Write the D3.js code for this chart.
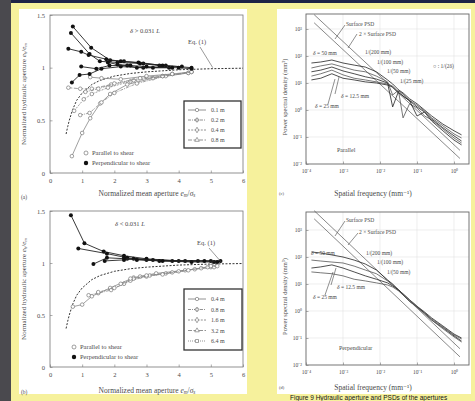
<!DOCTYPE html>
<html>
<head>
<meta charset="utf-8">
<script src="https://cdn.jsdelivr.net/npm/d3@7"></script>
<style>
body { margin: 0; background: #f6f19c; }
svg { display: block; font-family: "Liberation Serif", "DejaVu Serif", serif; }
</style>
</head>
<body>
<svg id="fig" width="475" height="401"></svg>
<script>
// ---- (a), (b): normalized hydraulic aperture vs normalized mean aperture ----
var apertureTicks = [0, 1, 2, 3, 4, 5, 6];
var ratioTicks = [0, 0.5, 1, 1.5];

// Eq. (1) curve
var eqAperture = [0.5, 0.55, 0.6, 0.7, 0.83, 1.0, 1.15, 1.3, 1.56, 2.0, 2.5, 3.0, 3.5, 4.0, 5.0, 6.0];
var eqRatio = [0.37, 0.44, 0.5, 0.6, 0.69, 0.76, 0.8, 0.84, 0.88, 0.92, 0.945, 0.96, 0.97, 0.98, 0.99, 0.995];

// (a) delta > 0.031 L
var aSizes = ["0.1 m", "0.2 m", "0.4 m", "0.8 m"];
var aPerp = [
    [[0.71, 1.39], [1.28, 1.19], [1.87, 1.07], [2.3, 1.06], [2.9, 1.04], [3.6, 1.02], [4.4, 1.0]],
    [[0.65, 1.33], [1.23, 1.13], [1.55, 1.06], [2.1, 1.05], [2.8, 1.04], [3.4, 1.02], [4.1, 1.01]],
    [[0.57, 1.18], [0.97, 1.15], [1.2, 1.12], [1.75, 1.08], [2.2, 1.06], [2.75, 1.05], [3.5, 1.02]],
    [[0.68, 0.86], [0.92, 0.93], [1.23, 0.94], [1.6, 0.99], [2.2, 1.01], [2.9, 1.0], [3.7, 1.0]],
    [[0.97, 1.01], [1.44, 0.99], [1.85, 1.02], [2.4, 1.02], [2.7, 1.0], [3.2, 1.0], [4.0, 1.0], [4.4, 0.99]],
    [[1.8, 1.05], [2.1, 1.03], [2.5, 1.02], [3.0, 1.01], [3.8, 1.0]]
];
var aPar = [
    [[0.68, 0.16], [1.0, 0.38], [1.25, 0.52], [1.56, 0.66], [1.87, 0.75], [2.4, 0.84], [3.2, 0.9], [4.3, 0.95]],
    [[0.94, 0.55], [1.23, 0.57], [1.6, 0.67], [2.0, 0.76], [2.7, 0.85], [3.6, 0.92], [4.4, 0.96]],
    [[0.75, 0.59], [1.05, 0.7], [1.3, 0.75], [1.8, 0.81], [2.5, 0.87], [3.5, 0.92], [4.3, 0.95]],
    [[0.57, 0.81], [0.94, 0.8], [1.3, 0.8], [1.9, 0.84], [2.6, 0.88], [3.5, 0.92], [4.4, 0.96]],
    [[1.25, 0.91], [1.6, 0.9], [2.2, 0.89], [3.0, 0.92], [3.8, 0.94], [4.4, 0.96]],
    [[1.1, 0.77], [1.5, 0.8], [2.0, 0.85], [2.8, 0.9], [3.8, 0.94]]
];

// (b) delta < 0.031 L
var bSizes = ["0.4 m", "0.8 m", "1.6 m", "3.2 m", "6.4 m"];
var bPerp = [
    [[0.65, 1.46], [1.07, 1.19], [1.67, 1.11], [2.3, 1.07], [3.0, 1.04], [4.0, 1.02], [5.0, 1.02]],
    [[0.88, 1.14], [1.77, 1.09], [2.4, 1.05], [3.2, 1.03], [4.2, 1.02], [5.3, 1.02]],
    [[1.35, 0.99], [1.77, 1.05], [2.4, 1.04], [3.0, 1.03], [3.8, 1.02], [4.6, 1.02]],
    [[1.7, 1.02], [2.3, 1.03], [2.6, 1.04], [3.4, 1.02], [4.4, 1.01], [5.1, 1.01]],
    [[2.3, 1.05], [2.7, 1.03], [3.5, 1.02], [4.8, 1.02], [5.2, 1.01]]
];
var bPar = [
    [[0.71, 0.58], [1.0, 0.6], [1.3, 0.68], [1.87, 0.76], [2.6, 0.86], [3.3, 0.9], [4.2, 0.93], [5.0, 0.96]],
    [[1.2, 0.69], [1.5, 0.71], [1.9, 0.74], [2.3, 0.8], [2.8, 0.87], [3.6, 0.9], [4.5, 0.94], [5.1, 0.96]],
    [[1.5, 0.72], [2.0, 0.76], [2.5, 0.83], [3.0, 0.87], [3.8, 0.91], [4.7, 0.95], [5.2, 0.97]],
    [[2.2, 0.8], [2.6, 0.85], [3.1, 0.88], [4.0, 0.92], [4.9, 0.96]],
    [[2.5, 0.85], [3.0, 0.88], [3.5, 0.89], [4.3, 0.93], [5.0, 0.97]]
];

// ---- (c), (d): power spectral density ----
var freqTicks = [1e-4, 1e-3, 1e-2, 1e-1, 1];
var freqTickLabels = ["10⁻⁴", "10⁻³", "10⁻²", "10⁻¹", "10⁰"];
var psdTicks = [1e-2, 1e-1, 1, 10, 100, 1000];
var psdTickLabels = ["10⁻²", "10⁻¹", "10⁰", "10¹", "10²", "10³"];

var freq = [1.4e-4, 2.5e-4, 5e-4, 1e-3, 2e-3, 4e-3, 8e-3, 0.016, 0.022, 0.032, 0.042, 0.063, 0.1, 0.16, 0.25, 0.5, 1, 1.6];
var cPsd = [
    [55, 60, 71, 55, 46, 39, 26, 13, 9.2, 5.5, 4.3, 2.6, 1.7, 1.0, 0.6, 0.3, 0.17, 0.12],
    [36, 43, 51, 39, 30, 26, 18, 11, 3.6, 5.5, 3.9, 2.3, 1.5, 0.92, 0.51, 0.26, 0.13, 0.092],
    [26, 30, 39, 28, 22, 17, 14, 10, 1.3, 5.1, 3.3, 2.2, 1.3, 0.84, 0.46, 0.22, 0.11, 0.071],
    [18, 22, 30, 20, 15, 13, 11, 9.2, 7.7, 4.6, 0.51, 1.7, 1.2, 0.6, 0.43, 0.2, 0.092, 0.06],
    [13, 15, 22, 15, 13, 11, 10, 8.4, 7.1, 4.3, 3.3, 2.2, 0.6, 0.84, 0.39, 0.17, 0.077, 0.051]
];
var dPsd = [
    [153, 141, 119, 100, 77, 55, 33, 14, 10, 6.0, 4.3, 2.6, 1.5, 0.92, 0.55, 0.28, 0.14, 0.1],
    [77, 71, 65, 60, 46, 33, 24, 13, 9.2, 6.0, 4.3, 2.6, 1.5, 0.84, 0.51, 0.26, 0.13, 0.092],
    [39, 43, 51, 39, 28, 20, 15, 11, 8.4, 6.0, 3.9, 2.3, 1.4, 0.84, 0.46, 0.24, 0.12, 0.077],
    [28, 26, 24, 20, 15, 13, 11, 9.2, 7.7, 5.5, 3.9, 2.3, 1.4, 0.77, 0.46, 0.22, 0.11, 0.071]
];
// straight surface PSD lines (end points), and 2 x surface PSD
var surfFreq = [1.66e-4, 1.45];
var cSurfPsd = [1700, 0.016];
var cSurf2Psd = [3400, 0.032];
var dSurfPsd = [2600, 0.02];
var dSurf2Psd = [5200, 0.04];

var svg = d3.select("#fig");
var ink = "#4a4a4a";

// scanned page: dark strip, navy strip, yellow, two white sheets
svg.append("rect").attr("width", 475).attr("height", 401).attr("fill", "#f6f19c");
svg.append("rect").attr("x", 0).attr("y", 0).attr("width", 11).attr("height", 401).attr("fill", "#4a494e");
svg.append("rect").attr("x", 11).attr("y", 0).attr("width", 464).attr("height", 3).attr("fill", "#1e2346");
svg.append("rect").attr("x", 19).attr("y", 9).attr("width", 228).attr("height", 385).attr("fill", "#fff");
svg.append("rect").attr("x", 277).attr("y", 9).attr("width", 194).attr("height", 385).attr("fill", "#fff");

// text with italic letters and subscripts: parts = [[text, "i" | "sub" | ""], ...]
function richText(sel, parts, size) {
    parts.forEach(function(p) {
        var t = sel.append("tspan").text(p[0]);
        if (p[1] === "i") t.attr("font-style", "italic");
        if (p[1] === "sub") t.attr("font-style", "italic").attr("font-size", size * 0.7).attr("baseline-shift", "-25%");
    });
}

function styleAxis(g) {
    g.select(".domain").remove();
    g.selectAll("line").attr("stroke", "#777").attr("stroke-width", 0.6);
    g.selectAll("text").attr("fill", ink).attr("font-family", "Liberation Serif").attr("font-size", 6.5);
}

var sizeDash = ["", "3,1,1,1", "2,1.2", "4,1.5", "1,1"];
var sizeSymbol = [d3.symbolCircle, d3.symbolCross, d3.symbolDiamond, d3.symbolTriangle, d3.symbolSquare];

function drawAperture(p) {
    var x = d3.scaleLinear().domain([0, 6]).range([50, 243]);
    var y = d3.scaleLinear().domain([0, 1.5]).range([p.bottom, p.top]);
    var g = svg.append("g");
    var line = d3.line().x(d => x(d[0])).y(d => y(d[1]));

    g.append("rect")
        .attr("x", x(0)).attr("y", y(1.5))
        .attr("width", x(6) - x(0)).attr("height", y(0) - y(1.5))
        .attr("fill", "none").attr("stroke", "#777").attr("stroke-width", 0.8);

    var xAxis = g.append("g").attr("transform", `translate(0, ${y(0)})`)
        .call(d3.axisBottom(x).tickValues(apertureTicks).tickSize(-2.5).tickPadding(5).tickFormat(d3.format("d")));
    styleAxis(xAxis);
    var yAxis = g.append("g").attr("transform", `translate(${x(0)}, 0)`)
        .call(d3.axisLeft(y).tickValues(ratioTicks).tickSize(-2.5).tickPadding(5).tickFormat(d => String(d)));
    styleAxis(yAxis);

    // Eq. (1)
    g.append("path")
        .attr("d", line(eqAperture.map((v, i) => [v, eqRatio[i]])))
        .attr("fill", "none").attr("stroke", "#333").attr("stroke-width", 1).attr("stroke-dasharray", "2,1.5");

    // parallel to shear (open)
    p.par.forEach(function(s, i) {
        g.append("path").attr("d", line(s)).attr("fill", "none")
            .attr("stroke", "#888").attr("stroke-width", 0.8).attr("stroke-dasharray", sizeDash[i % p.sizes.length]);
        g.selectAll(null).data(s).enter().append("circle")
            .attr("cx", d => x(d[0])).attr("cy", d => y(d[1])).attr("r", 1.8)
            .attr("fill", "#fff").attr("stroke", "#777").attr("stroke-width", 0.7);
    });
    // perpendicular to shear (filled)
    p.perp.forEach(function(s, i) {
        g.append("path").attr("d", line(s)).attr("fill", "none")
            .attr("stroke", "#222").attr("stroke-width", 0.9);
        g.selectAll(null).data(s).enter().append("circle")
            .attr("cx", d => x(d[0])).attr("cy", d => y(d[1])).attr("r", 2)
            .attr("fill", "#111");
    });

    // Eq. (1) label with leader
    g.append("text").attr("x", p.eqLabel[0]).attr("y", p.eqLabel[1])
        .attr("font-size", 6.5).attr("fill", ink).text("Eq. (1)");
    g.append("line")
        .attr("x1", p.eqLabel[0] + 12).attr("y1", p.eqLabel[1] + 3)
        .attr("x2", x(p.eqPoint[0])).attr("y2", y(p.eqPoint[1]))
        .attr("stroke", "#555").attr("stroke-width", 0.6);

    // delta condition
    var dt = g.append("text").attr("x", p.deltaLabel[0]).attr("y", p.deltaLabel[1])
        .attr("font-size", 6.5).attr("fill", ink);
    richText(dt, [["δ", "i"], [p.deltaText, ""], ["L", "i"]], 6.5);

    // size legend
    var lb = p.legendBox;
    g.append("rect").attr("x", lb[0]).attr("y", lb[1]).attr("width", lb[2]).attr("height", lb[3])
        .attr("fill", "#fff").attr("stroke", "#333").attr("stroke-width", 1.3);
    p.sizes.forEach(function(s, i) {
        var ly = lb[1] + p.legendRow0 + i * p.legendStep;
        g.append("line").attr("x1", lb[0] + 4).attr("x2", lb[0] + 22).attr("y1", ly).attr("y2", ly)
            .attr("stroke", "#777").attr("stroke-width", 0.8).attr("stroke-dasharray", sizeDash[i]);
        g.append("path").attr("transform", `translate(${lb[0] + 13}, ${ly})`)
            .attr("d", d3.symbol().type(sizeSymbol[i]).size(9)())
            .attr("fill", "#fff").attr("stroke", "#666").attr("stroke-width", 0.6);
        g.append("text").attr("x", lb[0] + 27).attr("y", ly + 2.2)
            .attr("font-size", 6).attr("fill", ink).text(s);
    });

    // direction legend
    var dl = p.dirLegend;
    g.append("circle").attr("cx", dl[0]).attr("cy", dl[1]).attr("r", 2)
        .attr("fill", "#fff").attr("stroke", "#777").attr("stroke-width", 0.7);
    g.append("circle").attr("cx", dl[0]).attr("cy", dl[1] + 10).attr("r", 2.2).attr("fill", "#111");
    g.append("text").attr("x", dl[0] + 6).attr("y", dl[1] + 2.2).attr("font-size", 6.5).attr("fill", ink).text("Parallel to shear");
    g.append("text").attr("x", dl[0] + 6).attr("y", dl[1] + 12.2).attr("font-size", 6.5).attr("fill", ink).text("Perpendicular to shear");

    // axis titles and panel tag
    var xt = g.append("text").attr("x", 147).attr("y", p.xTitleY).attr("text-anchor", "middle")
        .attr("font-size", 7.5).attr("fill", ink);
    richText(xt, [["Normalized mean aperture ", ""], ["e", "i"], ["m", "sub"], ["/", ""], ["σ", "i"], ["s", "sub"]], 7.5);
    var yt = g.append("text")
        .attr("transform", `translate(26, ${(y(0) + y(1.5)) / 2}) rotate(-90)`)
        .attr("text-anchor", "middle").attr("font-size", 7).attr("fill", ink);
    richText(yt, [["Normalized hydraulic aperture ", ""], ["e", "i"], ["h", "sub"], ["/", ""], ["e", "i"], ["m", "sub"]], 7);
    g.append("text").attr("x", 21).attr("y", p.tagY).attr("font-size", 5.5).attr("fill", ink).text(p.tag);
}

drawAperture({
    top: 15, bottom: 173, perp: aPerp, par: aPar, sizes: aSizes,
    eqLabel: [188, 44], eqPoint: [5.06, 1.0],
    deltaLabel: [130, 33], deltaText: " > 0.031 ",
    legendBox: [184, 101, 57, 47], legendRow0: 9, legendStep: 10,
    dirLegend: [86, 153], xTitleY: 196, tagY: 199, tag: "(a)"
});
drawAperture({
    top: 211, bottom: 367, perp: bPerp, par: bPar, sizes: bSizes,
    eqLabel: [197, 245], eqPoint: [5.35, 1.0],
    deltaLabel: [115, 226], deltaText: " < 0.031 ",
    legendBox: [184, 289, 58, 61], legendRow0: 10, legendStep: 10.5,
    dirLegend: [74, 347], xTitleY: 393, tagY: 394, tag: "(b)"
});

function drawPsd(p) {
    var x = d3.scaleLog().domain([1e-4, 1]).range([306, 454]);
    var y = d3.scaleLog().domain([1e-2, 1e3]).range([p.bottom, p.bottom - 135]);
    var right = 469, top = p.top;
    var g = svg.append("g");

    g.append("clipPath").attr("id", "clip" + p.tag)
        .append("rect").attr("x", 306).attr("y", top).attr("width", right - 306).attr("height", p.bottom - top);

    // faint decade grid
    g.selectAll(null).data(freqTicks.slice(1)).enter().append("line")
        .attr("x1", d => x(d)).attr("x2", d => x(d)).attr("y1", top).attr("y2", p.bottom)
        .attr("stroke", "#e2e2e2").attr("stroke-width", 0.6);
    g.selectAll(null).data(psdTicks.slice(1)).enter().append("line")
        .attr("x1", 306).attr("x2", right).attr("y1", d => y(d)).attr("y2", d => y(d))
        .attr("stroke", "#e2e2e2").attr("stroke-width", 0.6);

    g.append("rect").attr("x", 306).attr("y", top).attr("width", right - 306).attr("height", p.bottom - top)
        .attr("fill", "none").attr("stroke", "#666").attr("stroke-width", 0.9);

    var xAxis = g.append("g").attr("transform", `translate(0, ${p.bottom})`)
        .call(d3.axisBottom(x).tickValues(freqTicks).tickSize(-2.5).tickPadding(5)
            .tickFormat((d, i) => freqTickLabels[i]));
    styleAxis(xAxis);
    var yAxis = g.append("g").attr("transform", "translate(306, 0)")
        .call(d3.axisLeft(y).tickValues(psdTicks).tickSize(-2.5).tickPadding(4)
            .tickFormat((d, i) => psdTickLabels[i]));
    styleAxis(yAxis);
    xAxis.selectAll("text").attr("font-size", 5.5);
    yAxis.selectAll("text").attr("font-size", 5.5);

    var plot = g.append("g").attr("clip-path", `url(#clip${p.tag})`);
    var line = d3.line().x(d => x(d[0])).y(d => y(d[1]));
    [p.surf, p.surf2].forEach(function(s) {
        plot.append("path").attr("d", line(surfFreq.map((f, i) => [f, s[i]])))
            .attr("fill", "none").attr("stroke", "#555").attr("stroke-width", 0.7);
    });
    p.curves.forEach(function(c, i) {
        plot.append("path").attr("d", line(freq.map((f, j) => [f, c[j]])))
            .attr("fill", "none").attr("stroke", i % 2 ? "#555" : "#222").attr("stroke-width", 0.8);
    });

    // annotations
    p.notes.forEach(function(n) {
        var t = g.append("text").attr("x", n[0]).attr("y", n[1]).attr("font-size", n[3] || 5.5).attr("fill", ink);
        if (n[2].indexOf("δ") === 0) richText(t, [["δ", "i"], [n[2].slice(1), ""]], 5.5);
        else t.text(n[2]);
    });
    p.leaders.forEach(function(l) {
        g.append("line").attr("x1", l[0]).attr("y1", l[1]).attr("x2", l[2]).attr("y2", l[3])
            .attr("stroke", "#444").attr("stroke-width", 0.6);
    });

    var yt = g.append("text")
        .attr("transform", `translate(287, ${(top + p.bottom) / 2 + 8}) rotate(-90)`)
        .attr("text-anchor", "middle").attr("font-size", 6.5).attr("fill", ink)
        .text("Power spectral density (mm³)");
    g.append("text").attr("x", 373).attr("y", p.xTitleY).attr("text-anchor", "middle")
        .attr("font-size", 7.5).attr("fill", ink).text("Spatial frequency (mm⁻¹)");
    g.append("text").attr("x", 279).attr("y", p.xTitleY - 1).attr("font-size", 4.5).attr("fill", ink).text(p.tag);
}

drawPsd({
    top: 14, bottom: 164, curves: cPsd, surf: cSurfPsd, surf2: cSurf2Psd,
    xTitleY: 196, tag: "(c)",
    notes: [
        [346, 26, "Surface PSD"], [359, 35.5, "2 × Surface PSD"],
        [365, 54, "1/(200 mm)"], [377, 64, "1/(100 mm)"], [387, 73, "1/(50 mm)"], [400, 83, "1/(25 mm)"],
        [433, 68, "○ : 1/(2δ)"], [313, 55, "δ = 50 mm"], [341, 98, "δ = 12.5 mm"], [315, 108, "δ = 25 mm"],
        [337, 152, "Parallel", 6]
    ],
    leaders: [[345, 25, 335, 39], [357, 34, 348, 48], [335, 94, 339, 77], [328, 104, 335, 79]]
});
drawPsd({
    top: 212, bottom: 365, curves: dPsd, surf: dSurfPsd, surf2: dSurf2Psd,
    xTitleY: 390, tag: "(d)",
    notes: [
        [346, 222, "Surface PSD"], [359, 234, "2 × Surface PSD"],
        [366, 255, "1/(200 mm)"], [377, 263.5, "1/(100 mm)"], [387, 274, "1/(50 mm)"],
        [311, 255, "δ = 50 mm"], [337, 289, "δ = 12.5 mm"], [313, 299, "δ = 25 mm"],
        [339, 350, "Perpendicular", 6]
    ],
    leaders: [[345, 221, 335, 236], [358, 233, 348, 245], [331, 285, 336, 268], [325, 295, 333, 272]]
});

// caption line under the scan
svg.append("text").attr("x", 290).attr("y", 399.5)
    .attr("font-family", "Liberation Sans").attr("font-size", 6.5).attr("fill", "#111")
    .text("Figure 9   Hydraulic aperture and PSDs of the apertures");
</script>
</body>
</html>
